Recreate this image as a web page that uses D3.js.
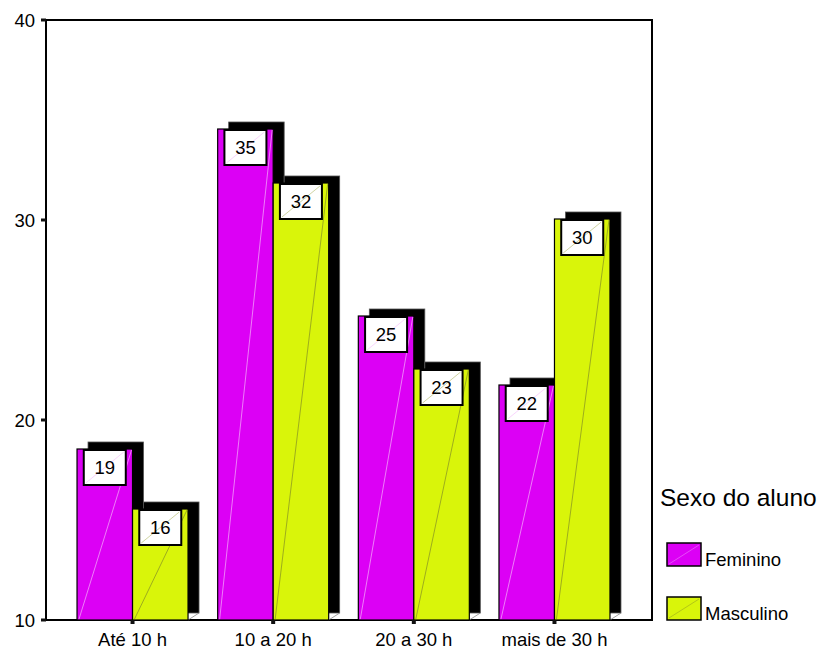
<!DOCTYPE html>
<html>
<head>
<meta charset="utf-8">
<script src="https://cdn.jsdelivr.net/npm/d3@7/dist/d3.min.js"></script>
<style>
  body { margin: 0; background: #fff; }
  svg { display: block; font-family: "Liberation Sans", Arial, Helvetica, sans-serif; }
</style>
</head>
<body>
<svg id="chart" width="823" height="650"></svg>
<script>
// ---- data ----
const categories = ["Até 10 h", "10 a 20 h", "20 a 30 h", "mais de 30 h"];
const seriesNames = ["Feminino", "Masculino"];
const feminino = [18.55, 34.55, 25.2, 21.75];
const masculino = [15.55, 31.85, 22.55, 30.05];
const yTicks = [10, 20, 30, 40];
const legendTitle = "Sexo do aluno";
const colors = ["#DC00F5", "#D9F50A"];
const diagColors = ["#F29BFA", "#8E9A22"];

const svg = d3.select("#chart");

const frame = { left: 46, top: 20, right: 652, bottom: 620 };
const y = d3.scaleLinear().domain([10, 40]).range([frame.bottom, frame.top]);
const x = d3.scaleBand().domain(categories).range([62.2, 624.8]).paddingInner(0).paddingOuter(0);
const barW = 55.5;
const xs = d3.scaleBand().domain(seriesNames)
  .range([x.bandwidth() / 2 - barW, x.bandwidth() / 2 + barW]);

const rows = [];
categories.forEach((c, i) => {
  rows.push({ cat: c, s: 0, v: feminino[i] });
  rows.push({ cat: c, s: 1, v: masculino[i] });
});

const bx = d => x(d.cat) + xs(seriesNames[d.s]);
const shX = 11, shY = -7;

// frame
svg.append("rect")
  .attr("x", frame.left).attr("y", frame.top)
  .attr("width", frame.right - frame.left).attr("height", frame.bottom - frame.top)
  .attr("fill", "none").attr("stroke", "#000").attr("stroke-width", 2);

const g = svg.append("g");

// shadows + bars per row in order
rows.forEach(d => {
  const x0 = bx(d), w = xs.bandwidth();
  const yt = y(d.v), h = y(10) - y(d.v);
  // shadow
  g.append("rect")
    .attr("x", x0 + shX).attr("y", yt + shY)
    .attr("width", w).attr("height", h)
    .attr("fill", "#000").attr("stroke", "#555").attr("stroke-width", 0.8);
  g.append("line")
    .attr("x1", x0 + w).attr("y1", y(10))
    .attr("x2", x0 + w + shX).attr("y2", y(10) + shY)
    .attr("stroke", "#888").attr("stroke-width", 0.8);
  // bar
  g.append("rect")
    .attr("x", x0).attr("y", yt)
    .attr("width", w).attr("height", h)
    .attr("fill", colors[d.s]).attr("stroke", "#000").attr("stroke-width", 1.2);
  g.append("line")
    .attr("x1", x0 + 2).attr("y1", y(10) - 1)
    .attr("x2", x0 + w - 1).attr("y2", yt + 1)
    .attr("stroke", diagColors[d.s]).attr("stroke-width", 0.8);
});

// value labels
const boxW = 42, boxH = 35;
rows.forEach(d => {
  const cx = bx(d) + xs.bandwidth() / 2;
  const top = y(d.v) + 1;
  svg.append("rect")
    .attr("x", cx - boxW / 2).attr("y", top)
    .attr("width", boxW).attr("height", boxH)
    .attr("fill", "#fff").attr("stroke", "#000").attr("stroke-width", 2);
  svg.append("line")
    .attr("x1", cx - boxW / 2 + 2).attr("y1", top + boxH - 2)
    .attr("x2", cx + boxW / 2 - 2).attr("y2", top + 2)
    .attr("stroke", diagColors[d.s]).attr("stroke-width", 0.7).attr("opacity", 0.6);
  svg.append("text")
    .attr("x", cx).attr("y", top + 23.5)
    .attr("text-anchor", "middle")
    .attr("font-size", 18.5).attr("fill", "#000")
    .text(Math.round(d.v));
});

// y axis ticks
const ya = svg.append("g");
yTicks.forEach(t => {
  ya.append("rect").attr("x", 41).attr("y", y(t) - 1.5).attr("width", 5).attr("height", 3).attr("fill", "#111");
  ya.append("text")
    .attr("x", 35).attr("y", y(t) + 6.5)
    .attr("text-anchor", "end").attr("font-size", 18.5).attr("fill", "#000")
    .text(t);
});

// x axis ticks
const xa = svg.append("g");
categories.forEach(c => {
  const cx = x(c) + x.bandwidth() / 2;
  xa.append("rect").attr("x", cx - 2).attr("y", frame.bottom).attr("width", 4).attr("height", 4).attr("fill", "#111");
  xa.append("text")
    .attr("x", cx).attr("y", 646)
    .attr("text-anchor", "middle").attr("font-size", 18.5).attr("fill", "#000")
    .text(c);
});

// legend
const lg = svg.append("g");
lg.append("text").attr("x", 660).attr("y", 506).attr("font-size", 24.5).attr("fill", "#000").text(legendTitle);
seriesNames.forEach((s, i) => {
  const yy = 543 + i * 54;
  lg.append("rect").attr("x", 667).attr("y", yy).attr("width", 34).attr("height", 23)
    .attr("fill", colors[i]).attr("stroke", "#000").attr("stroke-width", 1.5);
  lg.append("line").attr("x1", 669).attr("y1", yy + 21).attr("x2", 699).attr("y2", yy + 2)
    .attr("stroke", diagColors[i]).attr("stroke-width", 0.7).attr("opacity", 0.7);
  lg.append("text").attr("x", 705).attr("y", yy + 23).attr("font-size", 18.5).attr("fill", "#000").text(s);
});
</script>
</body>
</html>
